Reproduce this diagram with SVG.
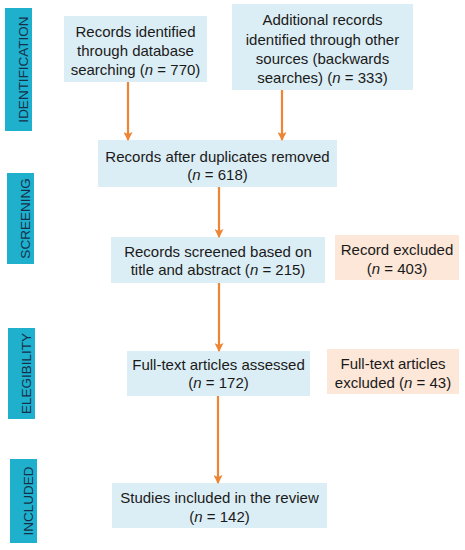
<svg xmlns="http://www.w3.org/2000/svg" width="465" height="550" viewBox="0 0 465 550">
<defs>
<marker id="ah" markerWidth="9" markerHeight="9" refX="8" refY="4.5" orient="auto" markerUnits="userSpaceOnUse">
<path d="M0,0 L9,4.5 L0,9 L2,4.5 Z" fill="#EE8534"/>
</marker>
<style>
.phase rect{fill:#1FB0CE}
.phase text{font-family:"Liberation Sans",Arial,sans-serif;font-size:13.5px;fill:#16304A;text-anchor:middle}
.box{fill:#DCEEF5}
.exc{fill:#FDE7D8}
.t{font-family:"Liberation Sans",Arial,sans-serif;font-size:15px;fill:#1a1a1a;text-anchor:middle}
.i{font-style:italic}
.conn line{stroke:#EE8534;stroke-width:2.2;marker-end:url(#ah)}
</style>
</defs>
<rect width="465" height="550" fill="#ffffff"/>

<g id="phase-identification" class="phase">
<rect x="5" y="8" width="27" height="123"/>
<text transform="translate(28,69.5) rotate(-90)">IDENTIFICATION</text>
</g>
<g id="phase-screening" class="phase">
<rect x="7" y="173" width="27" height="91"/>
<text transform="translate(30,218.5) rotate(-90)">SCREENING</text>
</g>
<g id="phase-elegibility" class="phase">
<rect x="8" y="328" width="27" height="91"/>
<text transform="translate(31,373.5) rotate(-90)">ELEGIBILITY</text>
</g>
<g id="phase-included" class="phase">
<rect x="10" y="459" width="27" height="84"/>
<text transform="translate(33,501) rotate(-90)">INCLUDED</text>
</g>

<g id="n-database">
<rect class="box" x="64" y="16" width="143" height="66"/>
<text class="t" x="135.5" y="37">Records identified</text>
<text class="t" x="135.5" y="56">through database</text>
<text class="t" x="135.5" y="75">searching (<tspan class="i">n</tspan> = 770)</text>
</g>
<g id="n-other">
<rect class="box" x="232" y="4" width="181" height="86"/>
<text class="t" x="322.5" y="25">Additional records</text>
<text class="t" x="322.5" y="44.5">identified through other</text>
<text class="t" x="322.5" y="64">sources (backwards</text>
<text class="t" x="322.5" y="83">searches) (<tspan class="i">n</tspan> = 333)</text>
</g>
<g id="n-duplicates">
<rect class="box" x="98" y="140" width="239" height="47"/>
<text class="t" x="217.5" y="162">Records after duplicates removed</text>
<text class="t" x="217.5" y="180">(<tspan class="i">n</tspan> = 618)</text>
</g>
<g id="n-screened">
<rect class="box" x="111" y="237" width="214" height="46"/>
<text class="t" x="218" y="257">Records screened based on</text>
<text class="t" x="218" y="275">title and abstract (<tspan class="i">n</tspan> = 215)</text>
</g>
<g id="n-excluded1">
<rect class="exc" x="335" y="235" width="124" height="45"/>
<text class="t" x="397" y="255">Record excluded</text>
<text class="t" x="397" y="274">(<tspan class="i">n</tspan> = 403)</text>
</g>
<g id="n-fulltext">
<rect class="box" x="127" y="351" width="183" height="45"/>
<text class="t" x="218.5" y="370">Full-text articles assessed</text>
<text class="t" x="218.5" y="388">(<tspan class="i">n</tspan> = 172)</text>
</g>
<g id="n-excluded2">
<rect class="exc" x="327" y="349" width="132" height="45"/>
<text class="t" x="393" y="369">Full-text articles</text>
<text class="t" x="393" y="388">excluded (<tspan class="i">n</tspan> = 43)</text>
</g>
<g id="n-included">
<rect class="box" x="112" y="483" width="215" height="45"/>
<text class="t" x="219.5" y="503">Studies included in the review</text>
<text class="t" x="219.5" y="522">(<tspan class="i">n</tspan> = 142)</text>
</g>

<g id="connectors" class="conn">
<line x1="128" y1="82" x2="128" y2="140"/>
<line x1="282" y1="90" x2="282" y2="140"/>
<line x1="219" y1="187" x2="219" y2="237"/>
<line x1="219" y1="283" x2="219" y2="351"/>
<line x1="218" y1="396" x2="218" y2="483"/>
</g>
</svg>
